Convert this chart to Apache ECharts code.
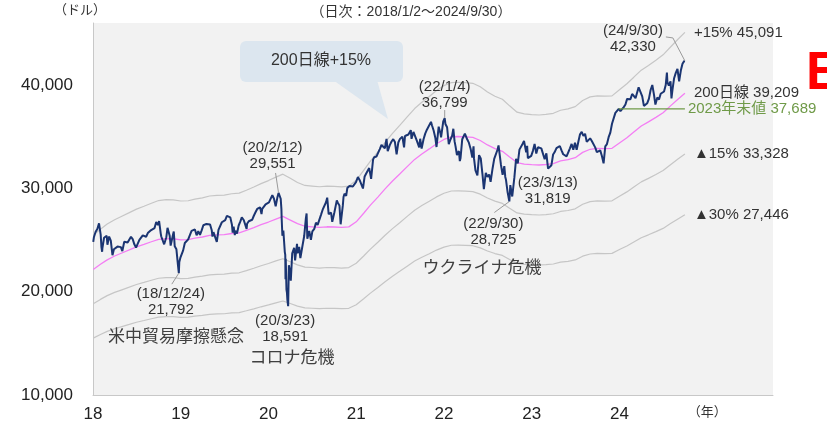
<!DOCTYPE html>
<html>
<head>
<meta charset="utf-8">
<script src="https://cdn.jsdelivr.net/npm/echarts@6/dist/echarts.min.js"></script>
<style>
  html, body { margin: 0; padding: 0; background: #fff; }
  #chart { width: 827px; height: 428px; }
</style>
</head>
<body>
<div id="chart"></div>
<script>
// NYダウ 日次（2018/1/2～2024/9/30）と200日線・乖離バンド
var dow2018 = [
  ['2018-01-02',24824],['2018-01-05',25296],['2018-01-12',25803],['2018-01-19',26072],['2018-01-26',26617],
  ['2018-02-02',25521],['2018-02-05',24346],['2018-02-08',23860],['2018-02-09',24191],['2018-02-16',25219],
  ['2018-02-23',25310],['2018-02-27',25410],['2018-03-02',24538],['2018-03-09',25336],['2018-03-16',24946],
  ['2018-03-23',23533],['2018-03-29',24103],['2018-04-06',23933],['2018-04-13',24360],['2018-04-20',24463],
  ['2018-04-27',24311],['2018-05-03',23930],['2018-05-11',24831],['2018-05-18',24715],['2018-05-25',24753],
  ['2018-06-01',24635],['2018-06-08',25317],['2018-06-12',25320],['2018-06-15',25090],['2018-06-22',24580],
  ['2018-06-29',24271],['2018-07-06',24456],['2018-07-13',25019],['2018-07-20',25058],['2018-07-27',25451],
  ['2018-08-03',25463],['2018-08-10',25313],['2018-08-17',25669],['2018-08-24',25790],['2018-08-31',25965],
  ['2018-09-07',25916],['2018-09-14',26154],['2018-09-21',26743],['2018-09-28',26458],['2018-10-03',26828],
  ['2018-10-10',25599],['2018-10-12',25340],['2018-10-19',25444],['2018-10-24',24583],['2018-10-29',24442],
  ['2018-11-02',25271],['2018-11-07',26180],['2018-11-09',25989],['2018-11-16',25413],['2018-11-20',24465],
  ['2018-11-23',24286],['2018-11-30',25538],['2018-12-03',25826],['2018-12-07',24389],['2018-12-14',24100],
  ['2018-12-21',22445],['2018-12-24',21792],['2018-12-26',22878],['2018-12-31',23327]
];
var dow2019 = [
  ['2019-01-04',23433],['2019-01-11',23996],['2019-01-18',24706],['2019-01-25',24737],['2019-02-01',25064],
  ['2019-02-08',25106],['2019-02-15',25883],['2019-02-22',26031],['2019-03-01',26026],['2019-03-08',25450],
  ['2019-03-15',25849],['2019-03-22',25502],['2019-03-29',25929],['2019-04-05',26424],['2019-04-12',26412],
  ['2019-04-18',26559],['2019-04-26',26543],['2019-05-03',26505],['2019-05-10',25942],['2019-05-13',25324],
  ['2019-05-17',25764],['2019-05-24',25585],['2019-05-31',24815],['2019-06-03',24820],['2019-06-07',25984],
  ['2019-06-14',26090],['2019-06-21',26719],['2019-06-28',26600],['2019-07-05',26922],['2019-07-12',27332],
  ['2019-07-15',27359],['2019-07-19',27154],['2019-07-26',27192],['2019-08-02',26485],['2019-08-05',25718],
  ['2019-08-09',26287],['2019-08-14',25479],['2019-08-16',25886],['2019-08-23',25629],['2019-08-30',26403],
  ['2019-09-06',26797],['2019-09-12',27182],['2019-09-20',26935],['2019-09-27',26820],['2019-10-02',26078],
  ['2019-10-04',26573],['2019-10-11',26817],['2019-10-18',26770],['2019-10-25',26958],['2019-11-01',27347],
  ['2019-11-08',27681],['2019-11-15',28005],['2019-11-22',27876],['2019-11-27',28164],['2019-12-03',27503],
  ['2019-12-06',28015],['2019-12-13',28135],['2019-12-20',28455],['2019-12-27',28645]
];
var dow2020 = [
  ['2020-01-03',28634],['2020-01-10',28824],['2020-01-17',29348],['2020-01-24',28990],['2020-01-31',28256],
  ['2020-02-07',29103],['2020-02-12',29551],['2020-02-14',29398],['2020-02-21',28992],['2020-02-24',27961],
  ['2020-02-25',27081],['2020-02-28',25409],['2020-03-03',25918],['2020-03-06',25864],['2020-03-09',23851],
  ['2020-03-11',23553],['2020-03-12',21200],['2020-03-13',23185],['2020-03-16',20189],['2020-03-18',19899],
  ['2020-03-20',19174],['2020-03-23',18591],['2020-03-26',22552],['2020-03-31',21917],['2020-04-03',21053],
  ['2020-04-09',23719],['2020-04-17',24242],['2020-04-21',23018],['2020-04-29',24634],['2020-05-01',23724],
  ['2020-05-08',24331],['2020-05-13',23248],['2020-05-22',24465],['2020-05-29',25383],['2020-06-05',27111],
  ['2020-06-08',27572],['2020-06-11',25128],['2020-06-19',25871],['2020-06-26',25016],['2020-07-02',25827],
  ['2020-07-10',26075],['2020-07-17',26672],['2020-07-24',26470],['2020-07-31',26428],['2020-08-07',27433],
  ['2020-08-14',27931],['2020-08-21',27930],['2020-08-28',28654],['2020-09-02',29100],['2020-09-08',27500],
  ['2020-09-11',27666],['2020-09-18',27657],['2020-09-23',26763],['2020-10-02',27683],['2020-10-12',28837],
  ['2020-10-16',28606],['2020-10-23',28336],['2020-10-28',26520],['2020-10-30',26502],['2020-11-06',28323],
  ['2020-11-09',29158],['2020-11-13',29480],['2020-11-20',29263],['2020-11-25',30046],['2020-12-04',30218],
  ['2020-12-11',30046],['2020-12-18',30179],['2020-12-24',30200],['2020-12-31',30606]
];
var dow2021 = [
  ['2021-01-08',31098],['2021-01-15',30814],['2021-01-22',30997],['2021-01-29',29983],['2021-02-05',31148],
  ['2021-02-12',31458],['2021-02-19',31494],['2021-02-24',31962],['2021-03-04',30924],['2021-03-12',32779],
  ['2021-03-17',33015],['2021-03-26',33073],['2021-03-31',32982],['2021-04-09',33801],['2021-04-16',34200],
  ['2021-04-23',34043],['2021-04-30',33875],['2021-05-07',34778],['2021-05-12',33587],['2021-05-21',34208],
  ['2021-05-28',34529],['2021-06-04',34756],['2021-06-11',34480],['2021-06-18',33290],['2021-06-25',34433],
  ['2021-07-02',34786],['2021-07-12',34996],['2021-07-19',33962],['2021-07-23',35061],['2021-07-30',34935],
  ['2021-08-06',35208],['2021-08-16',35625],['2021-08-19',34792],['2021-08-27',35455],['2021-09-03',35369],
  ['2021-09-10',34608],['2021-09-20',33970],['2021-09-24',34798],['2021-09-30',33844],['2021-10-04',34002],
  ['2021-10-08',34746],['2021-10-15',35295],['2021-10-22',35677],['2021-10-29',35820],['2021-11-08',36432],
  ['2021-11-12',36100],['2021-11-19',35602],['2021-11-26',34899],['2021-12-01',33999],['2021-12-10',35970],
  ['2021-12-17',35365],['2021-12-20',34932],['2021-12-29',36488],['2021-12-31',36338]
];
var dow2022 = [
  ['2022-01-04',36799],['2022-01-07',36232],['2022-01-14',35911],['2022-01-21',34265],['2022-01-24',34365],
  ['2022-01-28',34725],['2022-02-04',35089],['2022-02-09',35768],['2022-02-14',34566],['2022-02-18',34079],
  ['2022-02-24',33224],['2022-03-04',33615],['2022-03-08',32633],['2022-03-11',32944],['2022-03-18',34755],
  ['2022-03-25',34862],['2022-03-29',35294],['2022-04-08',34721],['2022-04-14',34451],['2022-04-22',33811],
  ['2022-04-29',32977],['2022-05-04',34061],['2022-05-06',32899],['2022-05-12',31730],['2022-05-20',31262],
  ['2022-05-27',33213],['2022-06-03',32900],['2022-06-10',31393],['2022-06-16',29927],['2022-06-24',31501],
  ['2022-07-01',31097],['2022-07-08',31338],['2022-07-14',30630],['2022-07-22',31899],['2022-07-29',32845],
  ['2022-08-05',32803],['2022-08-12',33761],['2022-08-16',34152],['2022-08-26',32283],['2022-09-02',31318],
  ['2022-09-09',32151],['2022-09-13',31104],['2022-09-16',30822],['2022-09-23',29590],['2022-09-30',28725],
  ['2022-10-04',30316],['2022-10-12',29210],['2022-10-21',31082],['2022-10-28',32861],['2022-11-04',32403],
  ['2022-11-11',33747],['2022-11-18',33746],['2022-11-25',34347],['2022-11-30',34590],['2022-12-02',34429],
  ['2022-12-09',33476],['2022-12-13',34108],['2022-12-16',32920],['2022-12-22',32941],['2022-12-30',33147]
];
var dow2023 = [
  ['2023-01-06',33630],['2023-01-13',34302],['2023-01-20',33375],['2023-01-27',33978],['2023-02-03',33926],
  ['2023-02-10',33869],['2023-02-17',33827],['2023-02-24',32817],['2023-03-03',33391],['2023-03-10',31909],
  ['2023-03-13',31819],['2023-03-17',31862],['2023-03-24',32237],['2023-03-31',33274],['2023-04-06',33485],
  ['2023-04-14',33886],['2023-04-21',33809],['2023-04-28',34098],['2023-05-05',33674],['2023-05-12',33300],
  ['2023-05-19',33427],['2023-05-26',33093],['2023-05-31',32908],['2023-06-09',33876],['2023-06-16',34299],
  ['2023-06-23',33727],['2023-06-30',34408],['2023-07-07',33734],['2023-07-14',34509],['2023-07-21',35228],
  ['2023-07-28',35460],['2023-08-04',35066],['2023-08-11',35281],['2023-08-18',34500],['2023-08-25',34346],
  ['2023-09-01',34838],['2023-09-08',34577],['2023-09-15',34618],['2023-09-22',33964],['2023-09-29',33508],
  ['2023-10-06',33408],['2023-10-13',33670],['2023-10-20',33127],['2023-10-27',32418],['2023-11-03',34061],
  ['2023-11-10',34283],['2023-11-17',34947],['2023-11-24',35390],['2023-12-01',36245],['2023-12-08',36247],
  ['2023-12-15',37306],['2023-12-22',37385],['2023-12-29',37689]
];
var dow2024 = [
  ['2024-01-05',37466],['2024-01-12',37593],['2024-01-19',37863],['2024-01-26',38109],['2024-02-02',38654],
  ['2024-02-09',38671],['2024-02-16',38628],['2024-02-23',39131],['2024-03-01',39087],['2024-03-08',38722],
  ['2024-03-15',38715],['2024-03-21',39781],['2024-03-28',39807],['2024-04-05',38904],['2024-04-12',37983],
  ['2024-04-16',37799],['2024-04-19',37986],['2024-04-26',38240],['2024-05-03',38676],['2024-05-10',39512],
  ['2024-05-17',40003],['2024-05-24',39070],['2024-05-30',38111],['2024-06-07',38799],['2024-06-14',38589],
  ['2024-06-21',39150],['2024-06-28',39119],['2024-07-05',39376],['2024-07-12',40001],['2024-07-17',41198],
  ['2024-07-19',40288],['2024-07-25',39935],['2024-08-01',40348],['2024-08-05',38703],['2024-08-09',39498],
  ['2024-08-16',40660],['2024-08-23',41175],['2024-08-30',41563],['2024-09-06',40345],['2024-09-13',41394],
  ['2024-09-20',42063],['2024-09-27',42313],['2024-09-30',42330]
];

// 200日移動平均（月初の読み取り値）
var ma200 = [
  ['2018-01-02',22150],['2018-02-01',22650],['2018-03-01',23080],['2018-04-01',23450],['2018-05-01',23740],
  ['2018-06-01',24040],['2018-07-01',24340],['2018-08-01',24580],['2018-09-01',24830],['2018-10-01',25060],
  ['2018-11-01',25130],['2018-12-01',25120],['2019-01-01',25020],['2019-02-01',25040],['2019-03-01',25180],
  ['2019-04-01',25290],['2019-05-01',25440],['2019-06-01',25500],['2019-07-01',25520],['2019-08-01',25630],
  ['2019-09-01',25680],['2019-10-01',25930],['2019-11-01',26200],['2019-12-01',26480],['2020-01-01',26740],
  ['2020-02-01',27030],['2020-03-01',27280],['2020-04-01',26930],['2020-05-01',26580],['2020-06-01',26330],
  ['2020-07-01',26280],['2020-08-01',26220],['2020-09-01',26280],['2020-10-01',26260],['2020-11-01',26215],
  ['2020-12-01',26270],['2021-01-01',26760],['2021-02-01',27590],['2021-03-01',28370],['2021-04-01',29150],
  ['2021-05-01',29950],['2021-06-01',30710],['2021-07-01',31380],['2021-08-01',32100],['2021-09-01',32800],
  ['2021-10-01',33330],['2021-11-01',33815],['2021-12-01',34320],['2022-01-01',34730],['2022-02-01',34990],
  ['2022-03-01',35015],['2022-04-01',34980],['2022-05-01',34925],['2022-06-01',34630],['2022-07-01',34200],
  ['2022-08-01',33840],['2022-09-01',33580],['2022-10-01',33030],['2022-11-01',32495],['2022-12-01',32350],
  ['2023-01-01',32290],['2023-02-01',32260],['2023-03-01',32305],['2023-04-01',32400],['2023-05-01',32660],
  ['2023-06-01',32770],['2023-07-01',32960],['2023-08-01',33480],['2023-09-01',33780],['2023-10-01',33860],
  ['2023-11-01',33840],['2023-12-01',33870],['2024-01-01',34390],['2024-02-01',34890],['2024-03-01',35440],
  ['2024-04-01',36030],['2024-05-01',36430],['2024-06-01',36870],['2024-07-01',37320],['2024-08-01',37980],
  ['2024-09-01',38630],['2024-09-30',39209]
];

// 200日線からの乖離率（%）と右端ラベル
var bandPct = [15, -15, -30];
var bandLabels = ['+15% 45,091', '▲15% 33,328', '▲30% 27,446'];
var maLabel = '200日線 39,209';

var yearEnd2023 = 37689;
var yearEndSpan = ['2023-12-29', '2024-09-30'];
var yearEndLabel = '2023年末値 37,689';

var yearTicks = ['18', '19', '20', '21', '22', '23', '24'];
var yTicks = [10000, 20000, 30000, 40000];

// 注記：[日付, 値, テキスト, 文字中心dx, dy, 引出線の点(相対)]
var notes = [
  ['2018-12-24', 21792, '(18/12/24)\n21,792', -8, 29, [[-7, 11]]],
  ['2020-02-12', 29551, '(20/2/12)\n29,551', -6, -37, [[-3, -20]]],
  ['2020-03-23', 18591, '(20/3/23)\n18,591', -3, 23, []],
  ['2022-01-04', 36799, '(22/1/4)\n36,799', 0, -23, [[0, -8]]],
  ['2022-09-30', 28725, '(22/9/30)\n28,725', -16, 30, [[-15, 11]]],
  ['2023-03-13', 31819, '(23/3/13)\n31,819', -1, 21, []],
  ['2024-09-30', 42330, '(24/9/30)\n42,330', -52, -22, [[-12, -23], [-19, -24]]]
];
var events = [
  ['米中貿易摩擦懸念', 176, 337],
  ['コロナ危機', 292, 358],
  ['ウクライナ危機', 482, 268]
];

var FONT = 'Arial, "Liberation Sans", "Noto Sans CJK JP", sans-serif';

function yr(s) {
  var p = s.split('-').map(Number);
  var t = Date.UTC(p[0], p[1] - 1, p[2]), a = Date.UTC(p[0], 0, 1), b = Date.UTC(p[0] + 1, 0, 1);
  return p[0] + (t - a) / (b - a);
}
function fmt(n) {
  return String(Math.round(n)).replace(/\B(?=(\d{3})+(?!\d))/g, ',');
}
function pts(arr) {
  return arr.map(function (d) { return [yr(d[0]), d[1]]; });
}

var dowAll = [].concat(dow2018, dow2019, dow2020, dow2021, dow2022, dow2023, dow2024);
var maPts = pts(ma200);

var bandSeries = bandPct.map(function (p, i) {
  return {
    type: 'line', symbol: 'none', silent: true,
    data: maPts.map(function (d) { return [d[0], d[1] * (1 + p / 100)]; }),
    lineStyle: { color: '#c6c6c6', width: 1.2 },
    endLabel: { show: true, formatter: bandLabels[i], distance: 9, color: '#333', fontSize: 15, fontFamily: FONT }
  };
});

var chart = echarts.init(document.getElementById('chart'));
chart.setOption({
  animation: false,
  grid: { left: 93, right: 54, top: 23, bottom: 33, show: true, backgroundColor: '#f2f2f2', borderWidth: 0, outerBoundsMode: 'none' },
  xAxis: {
    type: 'value', min: 2018, max: 2025.75, interval: 1,
    axisLine: { show: true, lineStyle: { color: '#c8c8c8', width: 1 } },
    axisTick: { show: false },
    splitLine: { show: false },
    axisLabel: {
      margin: 11, color: '#222', fontSize: 17, fontFamily: FONT, showMaxLabel: false,
      formatter: function (v) {
        var i = Math.round(v) - 2018;
        if (i === 7) return '{u|（年）}';
        return yearTicks[i] || '';
      },
      rich: { u: { fontSize: 13, color: '#333', fontFamily: FONT } }
    }
  },
  yAxis: {
    type: 'value', min: 10000, max: 46000, interval: 10000,
    axisLine: { show: true, lineStyle: { color: '#c8c8c8', width: 1 } },
    axisTick: { show: false },
    splitLine: { show: false },
    axisLabel: {
      margin: 20, color: '#222', fontSize: 17, fontFamily: FONT, showMaxLabel: false,
      formatter: function (v) { return yTicks.indexOf(v) >= 0 ? fmt(v) : ''; }
    }
  },
  series: bandSeries.concat([
    {
      type: 'line', symbol: 'none', silent: true, data: maPts,
      lineStyle: { color: '#f47ef4', width: 1.3 },
      endLabel: { show: true, formatter: maLabel, distance: 9, color: '#333', fontSize: 15, fontFamily: FONT }
    },
    {
      type: 'line', symbol: 'none', silent: true, data: pts(dowAll),
      lineStyle: { color: '#1b3572', width: 2 }
    },
    {
      type: 'line', symbol: 'none', silent: true,
      data: yearEndSpan.map(function (d) { return [yr(d), yearEnd2023]; }),
      lineStyle: { color: '#6f9a48', width: 1.3 },
      endLabel: { show: true, formatter: yearEndLabel, distance: 3, color: '#6f9a48', fontSize: 15, fontFamily: FONT }
    }
  ])
});

// 注記・吹き出し
var g = [];
notes.forEach(function (n) {
  var p = chart.convertToPixel({ xAxisIndex: 0, yAxisIndex: 0 }, [yr(n[0]), n[1]]);
  if (n[5].length) {
    var line = [[p[0], p[1]]].concat(n[5].map(function (o) { return [p[0] + o[0], p[1] + o[1]]; }));
    g.push({ type: 'polyline', z: 20, shape: { points: line }, style: { stroke: '#9a9a9a', lineWidth: 1, fill: null } });
  }
  g.push({
    type: 'text', z: 21, x: p[0] + n[3], y: p[1] + n[4],
    style: { text: n[2], fill: '#333', font: '15px ' + FONT, lineHeight: 16,
      align: 'center', verticalAlign: 'middle', textAlign: 'center', textVerticalAlign: 'middle' }
  });
});
events.forEach(function (e) {
  g.push({
    type: 'text', z: 21, x: e[1], y: e[2],
    style: { text: e[0], fill: '#404040', font: '17px ' + FONT,
      align: 'center', verticalAlign: 'middle', textAlign: 'center', textVerticalAlign: 'middle' }
  });
});
// 吹き出し「200日線+15%」
g.push({ type: 'polygon', z: 22, shape: { points: [[333, 80], [377, 80], [388, 119]] }, style: { fill: '#dce6ef' } });
g.push({ type: 'rect', z: 22, shape: { x: 240, y: 41, width: 163, height: 41, r: 6 }, style: { fill: '#dce6ef' } });
g.push({
  type: 'text', z: 23, x: 321, y: 61,
  style: { text: '200日線+15%', fill: '#333', font: '16px ' + FONT,
    align: 'center', verticalAlign: 'middle', textAlign: 'center', textVerticalAlign: 'middle' }
});
// 単位・期間
g.push({
  type: 'text', x: 80, y: 10,
  style: { text: '（ドル）', fill: '#333', font: '13px ' + FONT,
    align: 'center', verticalAlign: 'middle', textAlign: 'center', textVerticalAlign: 'middle' }
});
g.push({
  type: 'text', x: 411, y: 12,
  style: { text: '（日次：2018/1/2～2024/9/30）', fill: '#333', font: '14px ' + FONT,
    align: 'center', verticalAlign: 'middle', textAlign: 'center', textVerticalAlign: 'middle' }
});
g.push({
  type: 'text', x: 806, y: 74,
  style: { text: 'E', fill: '#ff0000', font: 'bold 53px ' + FONT,
    align: 'left', verticalAlign: 'middle', textAlign: 'left', textVerticalAlign: 'middle' }
});
chart.setOption({ graphic: g });
</script>
</body>
</html>
